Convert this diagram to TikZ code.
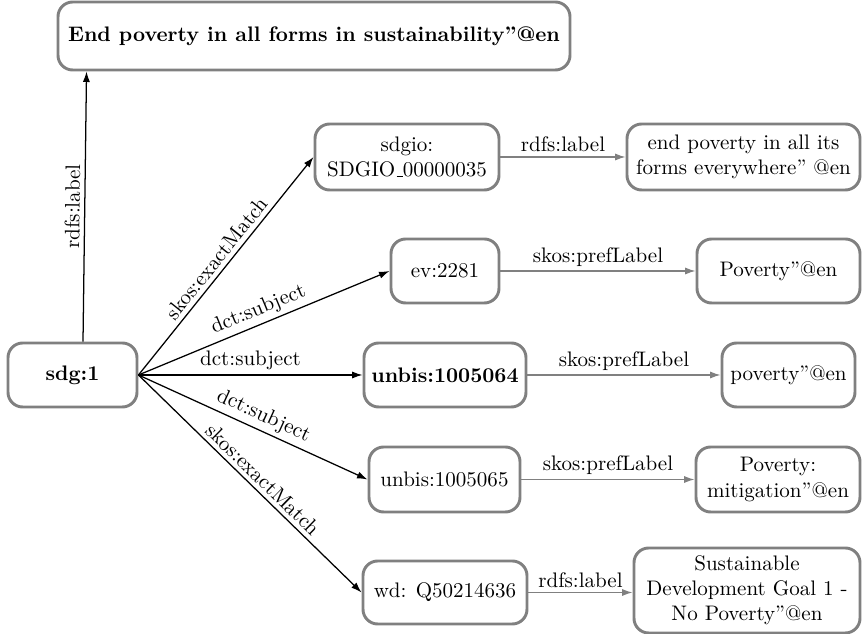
\documentclass[tikz,border=0pt]{standalone}
\usetikzlibrary{arrows.meta,calc}
\def\u{0.4757pt}
\newcommand{\lowbar}{\leavevmode\kern.06em\rule{.3em}{0.4pt}}
\definecolor{boxgray}{RGB}{128,128,128}
\definecolor{edgegray}{RGB}{128,128,128}
\tikzset{
  box/.style={draw=boxgray, line width=1.4pt, rounded corners=7pt, align=center,
    inner sep=0pt, font=\normalsize},
  blackedge/.style={line width=0.6pt, -{Latex[length=5pt,width=3.4pt]}},
  grayedge/.style={draw=edgegray, line width=0.6pt, -{Latex[length=5pt,width=3.4pt]}, fill=edgegray},
  elabel/.style={midway, above, sloped, inner sep=2pt, text=black},
}
\begin{document}
\begin{tikzpicture}[x=\u, y=-\u]
\useasboundingbox (0,0) rectangle (862,634);
% nodes
\node[box, minimum width=512*\u, minimum height=68*\u] (top) at (314,36) {\bfseries End poverty in all forms in sustainability''@en};
\node[box, minimum width=129*\u, minimum height=64*\u] (sdg) at (72.5,375) {\bfseries sdg:1};
\node[box, minimum width=184*\u, minimum height=66*\u] (sdgio) at (407,157) {sdgio:\\SDGIO\lowbar00000035};
\node[box, minimum width=233*\u, minimum height=66*\u] (endpov) at (743.5,157) {end poverty in all its\\forms everywhere'' @en};
\node[box, minimum width=108*\u, minimum height=64*\u] (ev) at (445,271) {ev:2281};
\node[box, minimum width=163*\u, minimum height=64*\u] (povA) at (778.5,271) {Poverty''@en};
\node[box, minimum width=162*\u, minimum height=64*\u] (unA) at (445,375) {\bfseries unbis:1005064};
\node[box, minimum width=133*\u, minimum height=64*\u] (povB) at (788.5,375) {poverty''@en};
\node[box, minimum width=151*\u, minimum height=65*\u] (unB) at (444.5,479.5) {unbis:1005065};
\node[box, minimum width=164*\u, minimum height=65*\u] (mitig) at (778,479.5) {Poverty:\\mitigation''@en};
\node[box, minimum width=164*\u, minimum height=63*\u] (wd) at (445,592.5) {wd: Q50214636};
\node[box, minimum width=226*\u, minimum height=85*\u] (sust) at (747,590.5) {Sustainable\\Development Goal 1 -\\No Poverty''@en};
% black edges
\draw[blackedge] ($(sdg.north)+(10.5,0)$) -- node[elabel]{rdfs:label} ($(top.south west)+(30,0)$);
\draw[blackedge] (sdg.east) -- node[elabel]{skos:exactMatch} (sdgio.west);
\draw[blackedge] (sdg.east) -- node[elabel]{dct:subject} (ev.west);
\draw[blackedge] (sdg.east) -- node[elabel]{dct:subject} (unA.west);
\draw[blackedge] (sdg.east) -- node[elabel, pos=0.52]{dct:subject} (unB.west);
\draw[blackedge] (sdg.east) -- node[elabel, pos=0.52]{skos:exactMatch} (wd.west);
% gray edges
\draw[grayedge] (sdgio.east) -- node[elabel]{rdfs:label} (endpov.west);
\draw[grayedge] (ev.east) -- node[elabel]{skos:prefLabel} (povA.west);
\draw[grayedge] (unA.east) -- node[elabel]{skos:prefLabel} (povB.west);
\draw[grayedge] (unB.east) -- node[elabel]{skos:prefLabel} (mitig.west);
\draw[grayedge] (wd.east) -- node[elabel]{rdfs:label} (wd.east -| sust.west);
\end{tikzpicture}
\end{document}
